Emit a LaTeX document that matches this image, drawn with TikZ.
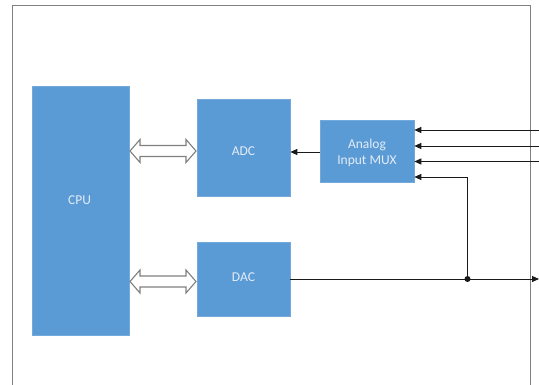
\documentclass[tikz,border=0pt]{standalone}
\usepackage{fontspec}
\setmainfont{Carlito}
\usetikzlibrary{arrows.meta,calc}
\definecolor{boxblue}{HTML}{5B9BD5}
\definecolor{txt}{HTML}{E3ECF7}
\definecolor{framegray}{HTML}{808080}
\definecolor{wire}{HTML}{1A1A1A}
\tikzset{
  blk/.style={draw=boxblue!85!white, line width=0.6pt, fill=boxblue, inner sep=0pt},
  lbl/.style={text=txt, font=\fontsize{13.5}{16}\selectfont, inner sep=0pt, align=center},
  wireline/.style={draw=wire, line width=0.9pt},
  sig/.style={wireline, -{Triangle[length=7pt,width=6pt]}},
  bus/.style={draw=framegray, line width=1.1pt, fill=white, line join=miter},
}
\newcommand\dblarr[3]{%
  \path[bus] (#1,#3) -- (#1+10,#3-11.5) -- (#1+10,#3-5.5) -- (#2-10,#3-5.5) -- (#2-10,#3-11.5) -- (#2,#3)
   -- (#2-10,#3+11.5) -- (#2-10,#3+5.5) -- (#1+10,#3+5.5) -- (#1+10,#3+11.5) -- cycle;}
\begin{document}
\begin{tikzpicture}[x=1pt,y=-1pt]
\useasboundingbox (0,0) rectangle (539,385);
% frame
\draw[framegray, line width=0.9pt] (12.5,386) -- (12.5,5.5) -- (530,5.5) -- (530,386);
% blocks
\node[blk, minimum width=97pt, minimum height=249pt, label={[lbl,yshift=10pt,xshift=-1pt]center:CPU}] (cpu) at (80.5,210.5) {};
\node[blk, minimum width=93pt, minimum height=97pt, label={[lbl,yshift=-3.5pt]center:ADC}] (adc) at (243.5,147.5) {};
\node[blk, minimum width=93pt, minimum height=74pt, label={[lbl,yshift=2pt]center:DAC}] (dac) at (243.5,279.5) {};
\node[blk, minimum width=94pt, minimum height=62pt, label={[lbl,yshift=-1pt]center:Analog\\Input MUX}] (mux) at (367,151.5) {};
% bus arrows
\dblarr{130}{196}{151}
\dblarr{130}{196}{281.5}
% input lines
\coordinate (in1) at (540,130);
\coordinate (in2) at (540,146);
\coordinate (in3) at (540,161.5);
\coordinate (out) at (539,279);
\coordinate (jn) at (467.5,279);
\draw[sig] (in1) -- (in1 -| mux.east);
\draw[sig] (in2) -- (in2 -| mux.east);
\draw[sig] (in3) -- (in3 -| mux.east);
\draw[sig] (mux.west |- 0,152) -- (adc.east |- 0,152);
\draw[sig] (dac.east |- jn) -- (out);
\draw[sig] (jn) |- ($(mux.east)+(0,25.5)$);
\fill[wire] (jn) circle (3pt);
\end{tikzpicture}
\end{document}
